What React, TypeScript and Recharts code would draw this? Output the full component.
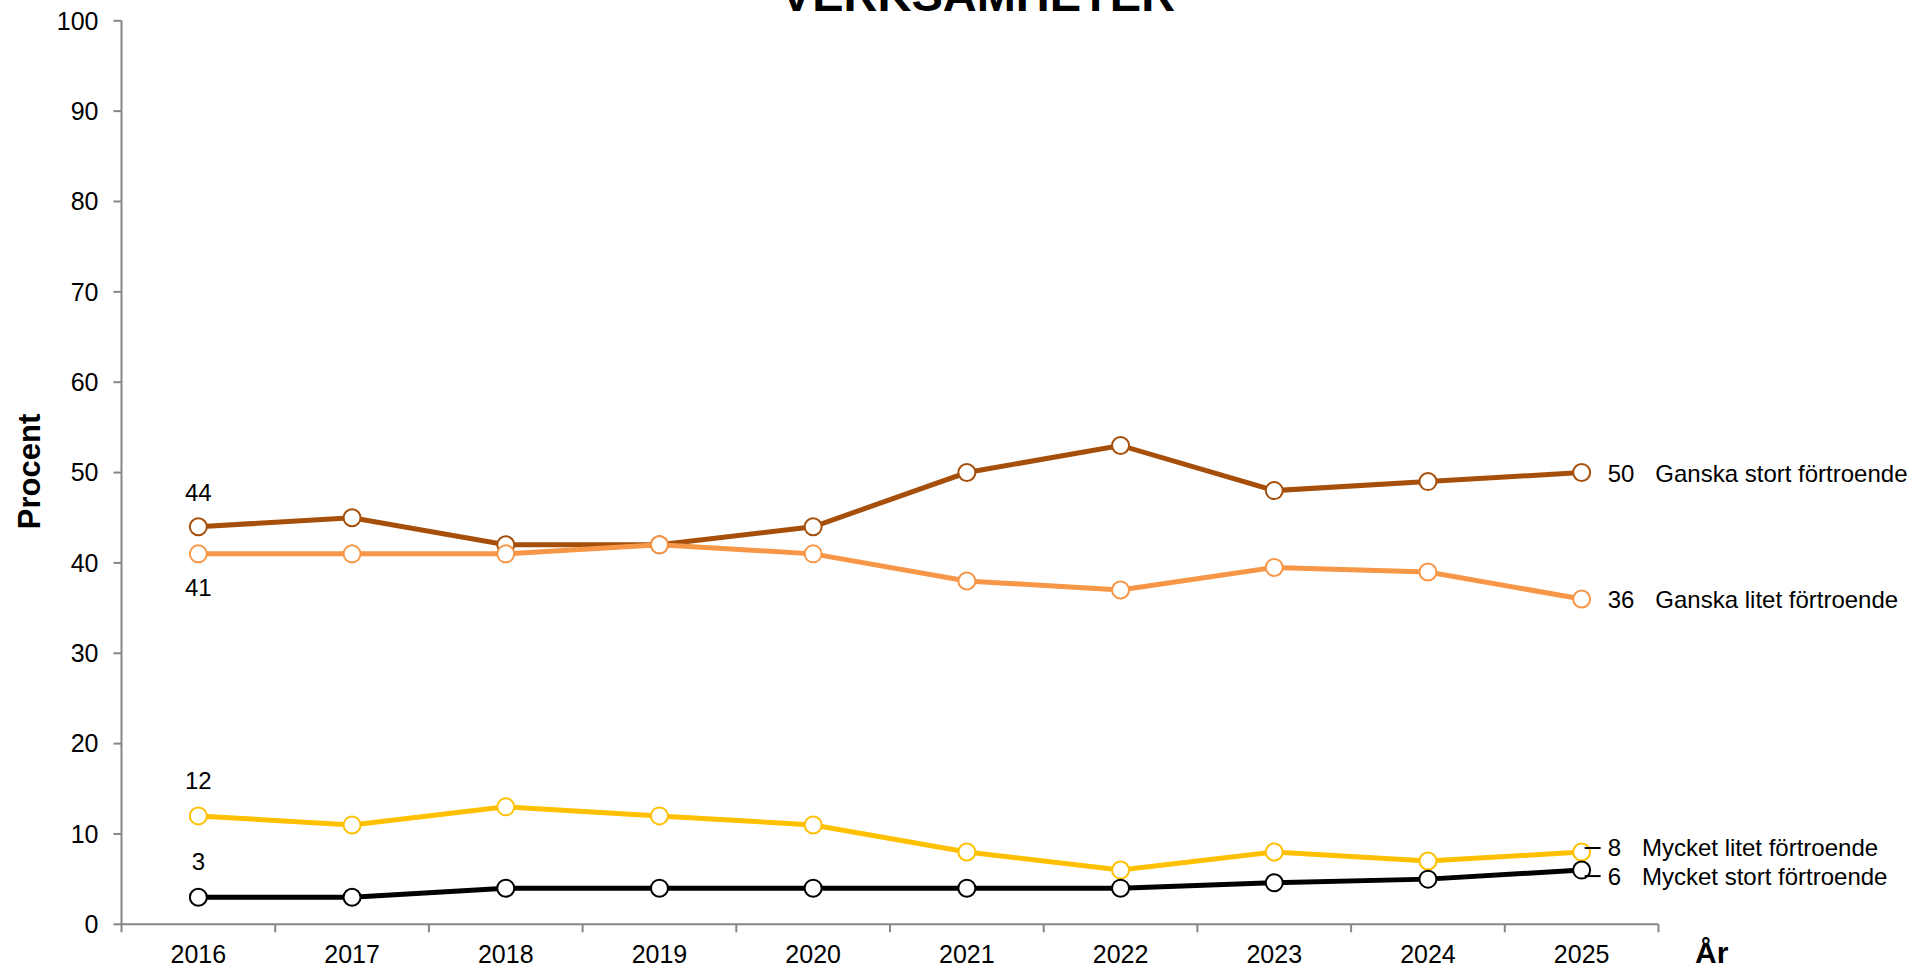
import React from 'react';
import { LineChart, Line, XAxis, YAxis, LabelList } from 'recharts';

if (typeof document !== 'undefined') {
  document.body.style.margin = '0';
  document.body.style.overflow = 'hidden';
}

const years = [2016, 2017, 2018, 2019, 2020, 2021, 2022, 2023, 2024, 2025];
const ganskaStort = [44, 45, 42, 42, 44, 50, 53, 48, 49, 50];
const ganskaLitet = [41, 41, 41, 42, 41, 38, 37, 39.5, 39, 36];
const mycketLitet = [12, 11, 13, 12, 11, 8, 6, 8, 7, 8];
const mycketStort = [3, 3, 4, 4, 4, 4, 4, 4.6, 5, 6];
const yTicks = [0, 10, 20, 30, 40, 50, 60, 70, 80, 90, 100];
const seriesNames = ['Ganska stort förtroende', 'Ganska litet förtroende', 'Mycket litet förtroende', 'Mycket stort förtroende'];
const titleText = 'VERKSAMHETER';
const yLabelText = 'Procent';
const xLabelText = 'År';

const data = years.map((y, i) => ({
  year: y,
  gs: ganskaStort[i],
  gl: ganskaLitet[i],
  ml: mycketLitet[i],
  ms: mycketStort[i],
}));

const xTicks: number[] = [];
years.forEach((y) => {
  xTicks.push(y - 0.5);
  xTicks.push(y);
});
xTicks.push(years[years.length - 1] + 0.5);

const FONT = '"Liberation Sans", Arial, Helvetica, sans-serif';
const AXIS = '#868686';
const W = 1922;
const H = 969;

const XTick = (props: any) => {
  const { x, y, payload } = props;
  const v = payload.value;
  if (Number.isInteger(v)) {
    return (
      <text x={x} y={y + 38.7} textAnchor="middle" fontSize={25} fill="#000" fontFamily={FONT}>
        {v}
      </text>
    );
  }
  return <line x1={x} x2={x} y1={y} y2={y + 8} stroke={AXIS} strokeWidth={2} />;
};

type LabelCfg = {
  name: string;
  firstDy: number;
  lastDy: number;
  leader?: number;
};

const makeLabel = (cfg: LabelCfg) => (props: any) => {
  const { index, value } = props;
  let px = props.x;
  let py = props.y;
  if (typeof px !== 'number' || typeof py !== 'number') {
    const vb = props.viewBox || {};
    px = vb.x + (vb.width || 0) / 2;
    py = vb.y + (vb.height || 0) / 2;
  }
  if (index === 0) {
    return (
      <text x={px} y={py + cfg.firstDy} textAnchor="middle" fontSize={24} fill="#000" fontFamily={FONT}>
        {value}
      </text>
    );
  }
  if (index === years.length - 1) {
    return (
      <g>
        {cfg.leader !== undefined && (
          <line x1={px + 3} x2={px + 19} y1={py + cfg.leader} y2={py + cfg.leader} stroke="#000" strokeWidth={2} />
        )}
        <text x={px + 26} y={py + cfg.lastDy} fontSize={24} fill="#000" fontFamily={FONT}>
          <tspan>{value}</tspan>
          <tspan dx={21}>{cfg.name}</tspan>
        </text>
      </g>
    );
  }
  return null;
};

const series = [
  { key: 'gs', color: '#A64F0A', cfg: { name: seriesNames[0], firstDy: -26, lastDy: 9.4 } },
  { key: 'gl', color: '#F79646', cfg: { name: seriesNames[1], firstDy: 42.6, lastDy: 9 } },
  { key: 'ml', color: '#FFC000', cfg: { name: seriesNames[2], firstDy: -27, lastDy: 4, leader: -4 } },
  { key: 'ms', color: '#000000', cfg: { name: seriesNames[3], firstDy: -27, lastDy: 15, leader: 6 } },
];

export default function App() {
  return (
    <div style={{ position: 'relative', width: W, height: H, background: '#fff' }}>
      <LineChart
        width={W}
        height={H}
        data={data}
        margin={{ top: 20.8, right: 263.5, bottom: 0, left: 0 }}
      >
        <XAxis
          dataKey="year"
          type="number"
          domain={[years[0] - 0.5, years[years.length - 1] + 0.5]}
          ticks={xTicks}
          interval={0}
          tickLine={false}
          tickSize={0}
          tickMargin={0}
          tick={<XTick />}
          axisLine={{ stroke: AXIS, strokeWidth: 2 }}
          height={44.7}
          allowDecimals
        />
        <YAxis
          type="number"
          domain={[0, 100]}
          ticks={yTicks}
          interval={0}
          width={121.5}
          tickSize={8}
          tickMargin={15}
          tickLine={{ stroke: AXIS, strokeWidth: 2 }}
          axisLine={{ stroke: AXIS, strokeWidth: 2 }}
          tick={{ fontSize: 25, fill: '#000', fontFamily: FONT }}
        />
        {series.map((s) => (
          <Line
            key={s.key}
            dataKey={s.key}
            type="linear"
            stroke={s.color}
            strokeWidth={5}
            dot={{ r: 8.5, fill: '#fff', stroke: s.color, strokeWidth: 2 }}
            activeDot={false}
            isAnimationActive={false}
          >
            <LabelList dataKey={s.key} content={makeLabel(s.cfg)} />
          </Line>
        ))}
      </LineChart>
      <svg
        width={W}
        height={H}
        style={{ position: 'absolute', left: 0, top: 0, pointerEvents: 'none' }}
      >
        <text x={978} y={10.5} textAnchor="middle" fontSize={47} fontWeight="bold" fill="#000" fontFamily={FONT}>
          {titleText}
        </text>
        <text
          x={40}
          y={471.5}
          textAnchor="middle"
          fontSize={31}
          fontWeight="bold"
          fill="#000"
          fontFamily={FONT}
          transform="rotate(-90 40 471.5)"
        >
          {yLabelText}
        </text>
        <text x={1695} y={963} fontSize={30} fontWeight="bold" fill="#000" fontFamily={FONT}>
          {xLabelText}
        </text>
      </svg>
    </div>
  );
}
